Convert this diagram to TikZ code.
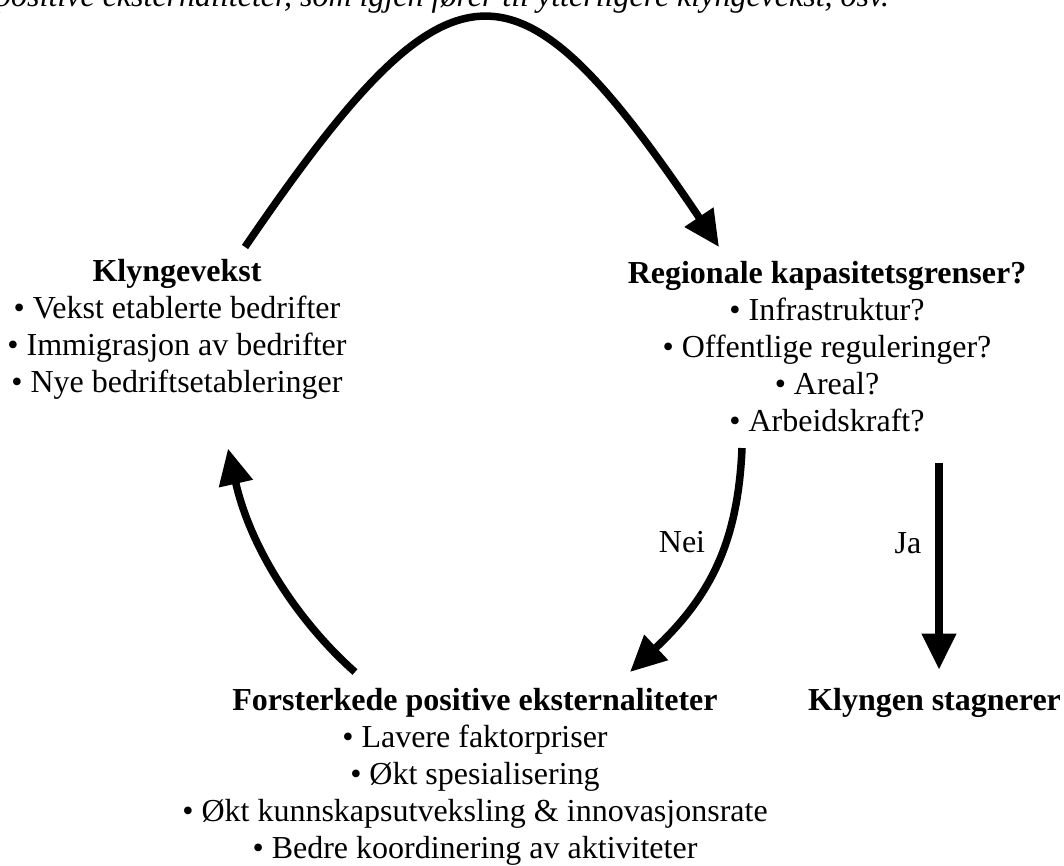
\documentclass[tikz,border=0pt]{standalone}
\usepackage{fontspec}
\setmainfont{Liberation Serif}[
  BoldFont={Liberation Serif Bold},
  ItalicFont={Liberation Serif Italic}]
\usepackage{tikz}
\usetikzlibrary{arrows.meta}
\tikzset{
  block/.style={align=center,inner sep=0pt,anchor=north,
    font=\fontsize{32}{37}\selectfont},
  lbl/.style={inner sep=0pt,font=\fontsize{32}{37}\selectfont},
  bigarrow/.style={line width=7.5pt,-{Triangle[length=36pt,width=33pt]}},
}

\begin{document}
\begin{tikzpicture}[x=1pt,y=-1pt]
			\useasboundingbox (0,0) rectangle (1064,866);
			\clip (0,0) rectangle (1064,866);
			\node[lbl,anchor=base west,font=\fontsize{32}{37}\selectfont\itshape] (top) at (-5,7) {positive eksternaliteter, som igjen fører til ytterligere klyngevekst, osv.};
			\node[block] (kv) at (177,259) {\textbf{Klyngevekst}\\ • Vekst etablerte bedrifter\\ • Immigrasjon av bedrifter\\ • Nye bedriftsetableringer};
			\node[block] (rk) at (827,261) {\textbf{Regionale kapasitetsgrenser?}\\ • Infrastruktur?\\ • Offentlige reguleringer?\\ • Areal?\\ • Arbeidskraft?};
			\node[block] (fp) at (475,688) {\textbf{Forsterkede positive eksternaliteter}\\ • Lavere faktorpriser\\ • Økt spesialisering\\ • Økt kunnskapsutveksling \& innovasjonsrate\\ • Bedre koordinering av aktiviteter};
			\node[lbl,anchor=base west] (ks) at (808,710) {\textbf{Klyngen stagnerer}};
			\node[lbl] (nei) at (682,542) {Nei};
			\node[lbl] (ja) at (908,543) {Ja};
			\coordinate (jastart) at ([xshift=112pt,yshift=-31pt]rk.south);
			\draw[bigarrow] ([xshift=68pt,yshift=12pt]kv.north) .. controls (452,-56) and (515,-56) .. ([xshift=-108pt,yshift=14pt]rk.north);
			\draw[bigarrow] ([xshift=-85pt,yshift=-16pt]rk.south) .. controls (738,540) and (712,595) .. ([xshift=155pt,yshift=16pt]fp.north);
			\draw[bigarrow] (jastart) -- ([yshift=18pt]jastart |- ks.north);
			\draw[bigarrow] ([xshift=-120pt,yshift=16pt]fp.north) .. controls (305,628) and (252,555) .. ([xshift=51pt,yshift=-49pt]kv.south);
		\end{tikzpicture}
\end{document}
